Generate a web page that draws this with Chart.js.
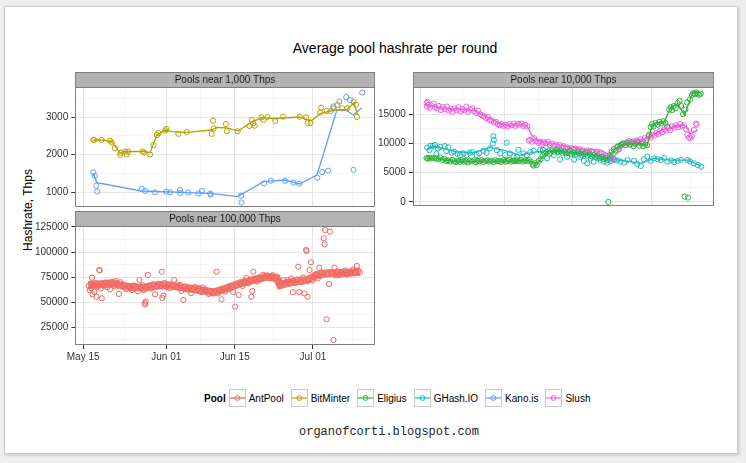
<!DOCTYPE html>
<html>
<head>
<meta charset="UTF-8">
<title>Average pool hashrate per round</title>
<script src="https://cdn.jsdelivr.net/npm/chart.js@4.4.1/dist/chart.umd.min.js"></script>
<style>
  body { margin:0; width:746px; height:463px; background:#eeeeee; font-family:"Liberation Sans", Arial, sans-serif; overflow:hidden; }
  #frame { position:absolute; left:4px; top:6px; width:732px; height:446px; background:#fff; border:1px solid #cdcdcd; box-shadow:1px 1px 3px rgba(0,0,0,0.2); }
  canvas { position:absolute; }
  .txt { position:absolute; white-space:nowrap; color:#000; }
  #legend { position:absolute; left:204px; top:389px; display:flex; align-items:center; font-size:10px; height:18px; }
  #legend b { margin-right:3px; }
  #legend .key { width:17px; height:18px; margin-right:3px; }
  #legend .lab { margin-right:7px; }
</style>
</head>
<body>
<div id="frame"></div>
<div class="txt" style="left:0;width:790px;top:40px;text-align:center;font-size:14px;">Average pool hashrate per round</div>
<div class="txt" style="left:28px;top:210px;font-size:12px;transform:translate(-50%,-50%) rotate(-90deg);">Hashrate, Thps</div>
<canvas id="p1"></canvas>
<canvas id="p2"></canvas>
<canvas id="p3"></canvas>
<div id="legend"><b>Pool</b></div>
<div class="txt" style="left:0;width:778px;top:425px;text-align:center;font-size:12px;font-family:'Liberation Mono',monospace;color:#222;">organofcorti.blogspot.com</div>

<script>
// days counted from May 15
const poolNames = ['AntPool', 'BitMinter', 'Eligius', 'GHash.IO', 'Kano.is', 'Slush'];
const poolColors = ['#F0665F', '#B79F00', '#2DB23A', '#1DBAC0', '#619CFF', '#EE5FE0'];

const xTickDays = [0, 17, 31, 47];
const xTickLabels = ['May 15', 'Jun 01', 'Jun 15', 'Jul 01'];
const xMinorDays = [8.5, 24, 39, 55];

const y1Major = [1000, 2000, 3000];
const y1Minor = [1500, 2500, 3500];
const y2Major = [0, 5000, 10000, 15000];
const y2Minor = [2500, 7500, 12500, 17500];
const y3Major = [25000, 50000, 75000, 100000, 125000];
const y3Minor = [12500, 37500, 62500, 87500, 112500];

// Pools near 1,000 Thps
const bitPtDays = [2.1,2.3,3.8,5.5,5.9,6.5,7.6,7.7,8.6,8.9,9.2,12.2,12.5,13.7,14.4,15.1,15.4,16.8,17.0,19.5,21.2,26.3,26.6,26.7,29.2,29.4,31.6,34.0,34.5,34.8,35.1,36.5,36.9,37.7,39.3,40.9,44.3,45.6,45.9,46.5,48.5,48.7,49.8,51.2,52.0,53.0,54.0,55.3,55.8,56.0];
const bitPtVals = [2390,2390,2390,2370,2320,2165,1990,2050,2080,2000,2080,2080,2050,2000,2250,2520,2570,2640,2680,2550,2600,2550,2900,2700,2810,2620,2620,2760,2920,2830,2770,2990,2920,3000,2890,3010,3010,2990,2840,2840,3120,3250,3160,3230,3320,3230,3230,3400,3330,3000];
const bitLineDays = [2.1,3.8,5.9,7.6,8.3,12.4,13.7,15.1,16.8,18.1,21.2,26.3,27.3,29.4,31.8,34.5,36.5,39.3,44.3,45.8,46.8,48.5,51.2,54.0,55.4,56.1];
const bitLineVals = [2387,2387,2343,2033,2080,2080,2050,2520,2653,2610,2590,2653,2720,2710,2630,2870,2977,2960,3000,2930,2910,3090,3180,3200,3380,3050];

const kanoPtDays = [2.1,2.4,2.7,2.9,12.0,12.7,14.7,17.0,17.8,19.8,19.9,21.5,23.6,24.3,26.0,26.1,32.3,32.4,37.0,38.4,41.3,43.0,44.2,47.9,48.9,50.1,50.6,51.2,52.4,53.8,54.6,55.3,57.1];
const kanoPtVals = [1525,1430,1170,1010,1080,1030,990,1010,990,1060,970,985,960,1030,960,930,900,720,1230,1300,1300,1250,1220,1380,1530,1570,3160,3280,3410,3530,3450,1590,3650];
const kanoLineDays = [2.1,2.8,12.0,26.0,31.6,36.9,41.3,44.3,47.8,49.1,51.9,53.8,55.3,57.0];
const kanoLineVals = [1500,1249,1027,964,876,1276,1320,1213,1453,1987,3187,3187,3053,3249];

// Pools near 10,000 Thps
const eliPtDays = [1.2,1.5,1.8,2.3,2.8,3.2,3.6,4.0,4.4,4.8,5.2,5.6,6.0,6.4,6.8,7.2,7.6,8.0,8.4,8.8,9.2,9.6,10.0,10.4,10.8,11.2,11.6,12.0,12.4,12.8,13.2,13.6,14.0,14.4,14.8,15.2,15.6,16.0,16.4,16.8,17.2,17.6,18.0,18.4,18.8,19.2,19.6,20.0,20.4,20.8,21.2,21.6,22.0,22.4,22.8,23.0,23.3,23.6,24.0,24.4,24.8,25.2,25.6,26.0,26.4,26.8,27.2,27.6,28.0,28.4,28.8,29.2,29.6,30.0,30.4,30.8,31.2,31.6,32.0,32.4,32.8,33.2,33.6,34.0,34.4,34.8,35.2,35.6,36.0,36.4,36.8,37.2,37.6,38.0,38.2,38.5,38.9,39.3,39.7,40.1,40.5,40.9,41.3,41.7,42.1,42.5,42.9,43.3,43.7,44.1,44.5,44.9,45.3,45.7,46.1,46.5,46.8,47.1,47.4,47.8,48.2,48.6,49.0,49.4,49.8,50.2,50.6,50.9,51.2,51.5,51.9,52.3,52.7,53.0,53.4,53.7,53.9,54.2,54.4,54.8,55.2,55.5,55.8,56.1,56.4,56.7,57.0];
const eliPtVals = [7500,7400,7550,7450,7500,7400,7300,7600,7200,7350,7000,7100,6900,7200,6950,6800,7000,6850,7100,6900,7000,6750,7050,6900,7100,6800,7000,6950,7150,6850,7000,7100,6900,7050,6800,7100,6950,7000,6850,7100,6900,7000,7150,6900,7050,6950,7100,7000,7200,6900,7100,7000,7200,6900,6400,6200,6600,6300,7000,7300,7900,8300,8500,8700,8400,8800,8600,8900,8500,8700,8400,8600,8300,8500,8700,8200,8400,8100,8500,8300,8000,8200,8400,7900,8100,7800,8000,7700,7900,7500,7700,7300,7500,7200,0,8000,8600,9000,8800,9400,9600,9800,10000,9700,10100,9800,10200,9500,9900,10300,9600,10000,9500,9800,9700,11500,12800,13300,12900,13500,13200,13700,13400,13800,13500,12900,15800,16200,15700,16400,16000,16900,17300,16400,15000,900,15800,17000,740,17500,18300,18600,18400,18700,18500,18300,18500];
const eliLineDays = [1.2,3.2,5.3,7.3,12.1,15.5,18.9,21.6,23.7,24.3,25.7,27.8,29.8,32.5,35.9,38.0,39.3,40.7,43.4,46.1,46.8,47.5,49.6,50.9,52.3,53.7,55.4,56.7];
const eliLineVals = [7440,7440,7160,6875,6990,6990,6990,7160,6590,7160,8580,8750,8520,8300,8010,7440,8860,9720,10000,9720,12270,13410,13690,16250,16820,14830,18810,18640];

const ghPtDays = [1.3,1.8,2.0,2.5,2.9,3.2,3.5,4.0,4.9,5.2,5.6,6.3,6.8,7.5,8.0,8.7,9.3,10.0,10.5,11.4,11.9,12.8,13.4,14.1,14.7,14.8,14.9,15.5,16.2,17.2,17.5,18.2,18.9,19.6,19.9,20.9,21.6,22.3,23.0,24.3,24.9,25.7,26.2,27.1,27.8,28.4,29.8,30.5,31.2,32.5,33.2,33.9,34.6,35.2,36.0,36.6,37.3,38.0,38.7,39.3,40.0,40.7,41.4,42.1,43.4,44.1,44.8,45.4,46.1,46.8,47.5,48.2,48.9,49.6,50.2,51.0,51.6,52.3,53.0,54.3,54.8,55.6,56.4,57.1];
const ghPtVals = [9300,8860,9600,9550,9720,8200,9150,9400,9550,8700,9320,8410,8600,8200,8010,8300,8000,8410,8500,8010,8300,8750,8400,9150,10000,11250,10570,8860,8300,8010,10110,8300,7800,7730,8900,8300,8000,8500,8750,8860,8900,7440,8200,8010,8600,7270,7730,8200,7200,7730,7000,6590,7400,6880,7500,7160,6900,6700,7000,7270,7100,6880,6700,7160,7000,6480,6140,7300,7730,7000,7440,7300,7160,7500,6880,7100,6800,6990,7200,7160,6900,6600,6300,6020];
const ghLineDays = [1.2,2.5,4.6,7.3,10.7,14.1,16.8,20.2,23.7,26.4,29.1,32.5,35.2,39.3,42.7,44.8,47.5,50.9,54.3,57.1];
const ghLineVals = [8860,9550,9150,8580,8410,9320,8860,8010,8580,8750,8410,8010,7730,7270,6880,6590,7440,7160,7160,6140];

const slushPtDays = [1.2,1.3,1.4,1.6,1.9,2.2,2.6,2.9,3.3,3.7,4.1,4.5,4.9,5.3,5.7,6.1,6.5,6.9,7.3,7.7,8.1,8.5,8.9,9.3,9.7,10.1,10.5,10.9,11.3,11.7,12.1,12.5,12.9,13.3,13.7,14.1,14.5,14.9,15.3,15.7,16.1,16.5,16.9,17.3,17.7,18.1,18.5,18.9,19.3,19.7,20.1,20.5,20.9,21.3,21.7,22.0,22.3,22.7,23.1,23.5,23.9,24.3,24.7,25.1,25.5,25.9,26.3,26.7,27.1,27.5,27.9,28.3,28.7,29.1,29.5,29.9,30.3,30.7,31.1,31.5,31.9,32.3,32.7,33.1,33.5,33.9,34.3,34.7,35.1,35.5,35.9,36.3,36.7,37.1,37.5,37.9,38.3,38.7,39.1,39.5,40.0,40.4,40.8,41.2,41.6,42.0,42.4,42.8,43.2,43.6,44.0,44.4,44.8,45.2,45.6,46.0,46.4,46.8,47.2,47.6,48.0,48.4,48.8,49.2,49.6,50.0,50.4,50.8,51.2,51.6,52.0,52.4,52.8,53.2,53.6,54.0,54.3,54.6,54.9,55.2,55.6,56.0,56.2];
const slushPtVals = [16900,16300,17100,16600,16100,16500,16800,16200,16000,16400,15700,16200,15900,16300,15600,15900,15400,16000,15700,16200,15500,15900,15700,16300,15400,15800,16000,15500,15200,15600,15000,14800,14600,14300,14500,14000,13900,13600,13700,13300,13100,13300,13000,13200,12900,13300,13100,13400,13000,13300,13200,13400,13000,13200,12900,10500,10600,10300,10900,10400,10100,10300,9900,10200,10000,10300,9700,10000,9600,9800,9400,9700,9300,9500,9100,9300,8900,9200,8900,9100,8700,9000,8600,8800,8500,8800,8400,8700,8500,8300,8600,8200,8400,7900,7600,7800,7400,7300,7500,7200,9500,9000,9800,10000,9700,10200,10400,9900,10300,10100,10500,10200,10700,10400,10900,10600,11200,11000,11500,11300,11800,11600,12200,11900,12400,12200,12600,12300,12900,12700,13100,12800,13300,12900,13100,12400,11500,11000,10900,11200,12300,13400,13200];
const slushLineDays = [1.2,2.9,5.3,8.7,11.0,12.1,14.1,16.2,17.2,18.5,21.6,22.6,23.7,25.7,28.4,31.2,33.9,36.6,39.3,40.7,42.1,44.8,46.8,48.9,51.6,53.7,55.0,56.4];
const slushLineVals = [16600,16250,15970,15800,15570,15110,14260,13410,13130,13130,13130,11420,10570,10280,9720,9320,8980,8860,7730,8900,10280,10570,11140,12270,12840,13130,11700,12300];

// Pools near 100,000 Thps
const antPtDays = [1.1,1.3,1.5,1.6,1.8,1.9,2.1,2.3,2.5,2.7,2.9,3.1,3.3,3.4,3.6,3.8,4.0,4.3,4.6,4.9,5.2,5.5,5.8,6.1,6.4,6.7,7.0,7.3,7.6,8.0,8.4,8.8,9.2,9.6,10.0,10.4,10.8,11.2,11.5,11.8,12.1,12.4,12.6,12.7,12.8,13.0,13.2,13.5,13.9,14.3,14.7,15.1,15.5,15.8,16.1,16.2,16.4,16.6,17.0,17.4,17.8,18.2,18.6,19.0,19.4,19.8,20.1,20.5,20.9,21.3,21.7,22.1,22.5,22.9,23.3,23.7,24.1,24.5,24.9,25.3,25.7,26.1,26.5,26.9,27.3,27.6,28.0,28.3,28.7,29.1,29.5,29.9,30.3,30.7,31.1,31.4,31.8,32.2,32.6,33.0,33.4,33.8,34.2,34.4,34.6,34.8,35.2,35.6,36.0,36.4,36.8,37.2,37.6,38.0,38.4,38.8,39.2,39.6,40.0,40.3,40.6,41.0,41.4,41.8,42.2,42.6,42.9,43.0,43.4,43.8,44.0,44.2,44.6,45.0,45.3,45.6,45.7,45.9,46.0,46.3,46.6,46.9,47.2,47.6,48.0,48.3,48.6,48.9,49.2,49.4,49.5,49.8,50.0,50.3,50.5,50.8,51.2,51.4,51.7,52.0,52.4,52.8,53.2,53.6,54.0,54.4,54.8,55.2,55.6,56.0,56.3,56.6];
const antPtVals = [66000,62000,68500,64000,74300,57700,66500,60000,69000,55300,65500,67800,82000,81500,63500,53700,68000,66200,69500,64800,67500,62500,70000,68300,66000,71000,67500,58000,69800,65800,67000,63000,66000,64500,62000,66500,65000,60500,72000,64800,66800,62000,49000,47500,50500,65000,77000,66500,63500,67800,57700,65500,68200,66000,80300,54000,56500,69000,65000,67500,63800,66800,72000,65200,64500,67000,61000,52000,65500,62800,64500,58800,63200,65000,61500,63800,60000,64500,62200,60500,58000,61000,59000,60500,80300,58500,61800,52700,62500,60500,64800,63000,66000,60000,45300,66500,57000,68500,66000,70000,74000,68800,71500,55300,61000,80300,72500,70500,74000,72800,77200,74500,76500,73800,75800,76800,74000,75500,70500,66500,68800,72000,69500,71800,68500,73500,59700,71000,69000,72500,85300,59800,70000,74500,58500,102000,101000,55300,72000,82000,89700,71500,75000,77500,73500,84300,76500,79500,113700,107700,122000,32700,77800,68000,120300,79500,12000,84300,76500,80500,77000,79800,78200,81500,77500,80000,78800,82500,79800,86000,81000,79500];
const antLineDays = [1.1,3.5,6.2,8.9,12.3,15.7,18.5,21.2,23.9,26.7,29.4,32.1,34.8,37.6,39.6,40.3,43.0,45.8,47.8,49.8,52.6,56.6];
const antLineVals = [67000,67667,68667,65333,64333,67000,66333,63667,62000,59667,63667,68667,72000,75333,73667,67000,70333,72000,77000,78667,78667,80333];

// ---- helpers ----
function xy(days, vals) { return days.map((d, i) => ({x: d, y: vals[i]})); }

function pointSet(days, vals, color) {
  return { data: xy(days, vals), showLine: false, pointRadius: 2.6, pointBorderWidth: 1,
           pointBackgroundColor: 'rgba(0,0,0,0)', pointBorderColor: color, order: 2 };
}
function lineSet(days, vals, color, w) {
  return { data: xy(days, vals), showLine: true, pointRadius: 0, borderWidth: w || 1.3,
           borderColor: color, tension: 0, order: 1 };
}

const facetPlugin = {
  id: 'facet',
  afterDraw(chart, args, opts) {
    const ctx = chart.ctx, a = chart.chartArea;
    const l = Math.round(a.left), t = Math.round(a.top), r = Math.round(a.right), b = Math.round(a.bottom);
    ctx.save();
    ctx.strokeStyle = '#7f7f7f';
    ctx.lineWidth = 1;
    ctx.strokeRect(l + 0.5, t + 0.5, r - l - 1, b - t - 1);
    ctx.fillStyle = '#b3b3b3';
    ctx.fillRect(l, t - 15, r - l, 15);
    ctx.strokeRect(l + 0.5, t - 14.5, r - l - 1, 15);
    ctx.fillStyle = '#1a1a1a';
    ctx.font = '10px "Liberation Sans", Arial, sans-serif';
    ctx.textAlign = 'center';
    ctx.textBaseline = 'middle';
    ctx.fillText(opts.label, (l + r) / 2, t - 7);
    ctx.restore();
  }
};

function gridFor(majors) {
  return {
    color: c => (c.tick && majors.includes(c.tick.value)) ? '#e5e5e5' : '#f6f6f6',
    tickColor: c => (c.tick && majors.includes(c.tick.value)) ? '#333333' : 'rgba(0,0,0,0)',
    tickLength: 4,
    lineWidth: 1
  };
}

function panelConfig(label, datasets, yMin, yMax, yMajor, yMinor, showX) {
  const xg = gridFor(xTickDays);
  if (!showX) xg.drawTicks = false;
  return {
    type: 'scatter',
    data: { datasets: datasets },
    plugins: [facetPlugin],
    options: {
      responsive: false,
      maintainAspectRatio: false,
      animation: false,
      events: [],
      layout: { padding: { top: 15, right: 0, left: 0, bottom: 0 } },
      plugins: { legend: { display: false }, tooltip: { enabled: false }, facet: { label: label } },
      scales: {
        x: {
          type: 'linear', min: -1.6, max: 59.7,
          afterBuildTicks: s => { s.ticks = xTickDays.concat(xMinorDays).sort((p, q) => p - q).map(v => ({value: v})); },
          ticks: { display: showX, autoSkip: false, maxRotation: 0, padding: 2,
                   color: '#333', font: { size: 10, family: '"Liberation Sans", Arial, sans-serif' },
                   callback: v => { const i = xTickDays.indexOf(v); return i >= 0 ? xTickLabels[i] : ''; } },
          grid: xg,
          border: { display: false }
        },
        y: {
          type: 'linear', min: yMin, max: yMax,
          afterBuildTicks: s => { s.ticks = yMajor.concat(yMinor).sort((p, q) => p - q).map(v => ({value: v})); },
          ticks: { autoSkip: false, padding: 3, color: '#333',
                   font: { size: 10, family: '"Liberation Sans", Arial, sans-serif' },
                   callback: v => yMajor.includes(v) ? String(v) : '' },
          grid: gridFor(yMajor),
          border: { display: false }
        }
      }
    }
  };
}

// place a panel so that its plot area lands on the box (l, t, r, b) of the page
function placePanel(id, box, cfgFn) {
  const cv = document.getElementById(id);
  let left = box.l - 60, top = box.t - 15, w = box.r - box.l + 60, h = box.b - box.t + 30;
  let chart;
  for (let pass = 0; pass < 3; pass++) {
    if (chart) chart.destroy();
    cv.width = w; cv.height = h;
    cv.style.left = left + 'px'; cv.style.top = top + 'px';
    cv.style.width = w + 'px'; cv.style.height = h + 'px';
    chart = new Chart(cv, cfgFn());
    const a = chart.chartArea;
    const il = a.left, it = a.top, ir = w - a.right, ib = h - a.bottom;
    left = Math.round(box.l - il); top = Math.round(box.t - it);
    w = Math.round(box.r - box.l + il + ir); h = Math.round(box.b - box.t + it + ib);
  }
}

placePanel('p1', {l: 75, t: 87, r: 375, b: 207}, () => panelConfig('Pools near 1,000 Thps', [
  pointSet(bitPtDays, bitPtVals, poolColors[1]), lineSet(bitLineDays, bitLineVals, poolColors[1]),
  pointSet(kanoPtDays, kanoPtVals, poolColors[4]), lineSet(kanoLineDays, kanoLineVals, poolColors[4])
], 600, 3800, y1Major, y1Minor, false));

placePanel('p2', {l: 413, t: 87, r: 714, b: 206}, () => panelConfig('Pools near 10,000 Thps', [
  pointSet(eliPtDays, eliPtVals, poolColors[2]), lineSet(eliLineDays, eliLineVals, poolColors[2]),
  pointSet(ghPtDays, ghPtVals, poolColors[3]), lineSet(ghLineDays, ghLineVals, poolColors[3]),
  pointSet(slushPtDays, slushPtVals, poolColors[5]), lineSet(slushLineDays, slushLineVals, poolColors[5])
], -700, 19650, y2Major, y2Minor, false));

placePanel('p3', {l: 75, t: 226, r: 375, b: 345}, () => panelConfig('Pools near 100,000 Thps', [
  pointSet(antPtDays, antPtVals, poolColors[0]), lineSet(antLineDays, antLineVals, poolColors[0] + 'd8', 8)
], 7000, 126000, y3Major, y3Minor, true));

// legend
const legend = document.getElementById('legend');
poolNames.forEach((name, i) => {
  const c = poolColors[i];
  const key = document.createElement('span');
  key.className = 'key';
  key.innerHTML = '<svg width="17" height="18"><rect x="0.5" y="0.5" width="16" height="17" fill="#fff" stroke="#c8c8c8"/>' +
    '<line x1="1" y1="9" x2="16" y2="9" stroke="' + c + '" stroke-width="1.2"/>' +
    '<circle cx="8.5" cy="9" r="2.4" fill="none" stroke="' + c + '" stroke-width="1"/></svg>';
  const lab = document.createElement('span');
  lab.className = 'lab';
  lab.textContent = name;
  legend.appendChild(key);
  legend.appendChild(lab);
});
</script>
</body>
</html>
